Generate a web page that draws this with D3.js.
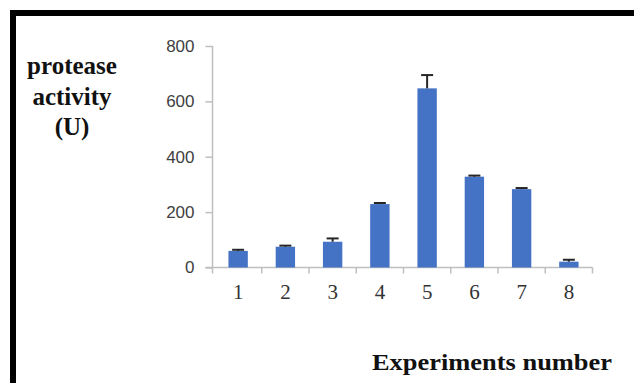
<!DOCTYPE html>
<html>
<head>
<meta charset="utf-8">
<script src="https://cdn.jsdelivr.net/npm/d3@7"></script>
<style>
  html, body { margin: 0; padding: 0; background: #ffffff; }
  svg { display: block; }
</style>
</head>
<body>
<script>
const categories = ["1", "2", "3", "4", "5", "6", "7", "8"];
const activity = [60, 75, 93, 229, 647, 328, 283, 21];
const errors = [4, 4, 12, 4, 48, 4, 4, 7];
const yTicks = [0, 200, 400, 600, 800];
const yTitleLines = ["protease", "activity", "(U)"];
const xTitle = "Experiments number";

const W = 634, H = 383;
const svg = d3.select("body").append("svg").attr("width", W).attr("height", H);

svg.append("rect").attr("width", W).attr("height", H).attr("fill", "#fff");

// frame
svg.append("rect")
  .attr("x", 13).attr("y", 13).attr("width", 700).attr("height", 500)
  .attr("fill", "none").attr("stroke", "#000").attr("stroke-width", 6);

const x = d3.scaleBand().domain(categories).range([214.5, 592.5])
  .paddingInner(0.59).paddingOuter(0.295);
const y = d3.scaleLinear().domain([0, 800]).range([267.5, 46]);
const axisColor = "#bfbfbf";
const yAxisX = 212.5;

// y axis
const gy = svg.append("g").attr("transform", `translate(${yAxisX},0)`)
  .call(d3.axisLeft(y).tickValues(yTicks).tickSize(7).tickPadding(11));
gy.select(".domain").attr("stroke", axisColor).attr("stroke-width", 1.5)
  .attr("d", `M0,${y(800)}V${y(0)}`);
gy.selectAll(".tick line").attr("stroke", axisColor).attr("stroke-width", 1.5);
gy.selectAll(".tick text").attr("font-family", "Liberation Sans, Arial, sans-serif")
  .attr("font-size", 17).attr("fill", "#404040");

// x axis
const gx = svg.append("g").attr("transform", `translate(0,${y(0)})`)
  .call(d3.axisBottom(x).tickSize(0).tickPadding(17));
gx.select(".domain").attr("stroke", axisColor).attr("stroke-width", 1.5)
  .attr("d", `M${yAxisX - 7},0H${x.range()[1]}`);
gx.selectAll(".tick text").attr("font-family", "Liberation Serif, Times New Roman, serif")
  .attr("font-size", 21).attr("fill", "#333");
const bounds = categories.map(c => x(c) - x.step() * x.paddingInner() / 2).concat([x.range()[1]]);
bounds[0] = yAxisX;
gx.selectAll("line.bound").data(bounds).join("line").attr("class", "bound")
  .attr("x1", d => d).attr("x2", d => d).attr("y1", 0).attr("y2", 6)
  .attr("stroke", axisColor).attr("stroke-width", 1.5);

// bars
svg.append("g").selectAll("rect").data(categories).join("rect")
  .attr("x", d => x(d)).attr("width", x.bandwidth())
  .attr("y", (d, i) => y(activity[i])).attr("height", (d, i) => y(0) - y(activity[i]))
  .attr("fill", "#4472c4");

// error bars
const eb = svg.append("g").attr("stroke", "#262626").attr("stroke-width", 2);
categories.forEach((c, i) => {
  const cx = x(c) + x.bandwidth() / 2;
  eb.append("line").attr("x1", cx).attr("x2", cx)
    .attr("y1", y(activity[i])).attr("y2", y(activity[i] + errors[i]));
  eb.append("line").attr("x1", cx - 6).attr("x2", cx + 6)
    .attr("y1", y(activity[i] + errors[i])).attr("y2", y(activity[i] + errors[i]));
});

// titles
const yt = svg.append("text").attr("font-family", "Liberation Serif, Times New Roman, serif")
  .attr("font-weight", "bold").attr("font-size", 25).attr("fill", "#111")
  .attr("text-anchor", "middle");
const baselines = [74, 105, 135];
yTitleLines.forEach((t, i) => {
  yt.append("tspan").attr("x", 72).attr("y", baselines[i]).text(t);
});

svg.append("text").attr("x", 372).attr("y", 370)
  .attr("font-family", "Liberation Serif, Times New Roman, serif")
  .attr("font-weight", "bold").attr("font-size", 24).attr("fill", "#111")
  .attr("textLength", 240).attr("lengthAdjust", "spacingAndGlyphs")
  .text(xTitle);
</script>
</body>
</html>
